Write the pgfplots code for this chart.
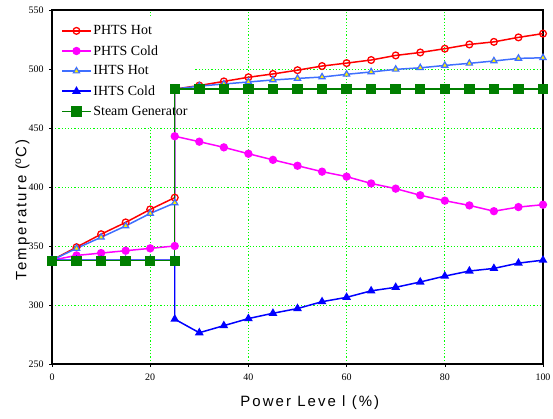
\documentclass[border=0pt]{standalone}
\usepackage{fontspec}
\setmainfont{Liberation Serif}
\newfontfamily\labelfont[LetterSpace=14]{Liberation Sans}
\usepackage{pgfplots}
\pgfplotsset{compat=1.18}
\definecolor{cHot}{HTML}{FF0000}
\definecolor{cCold}{HTML}{FF00FF}
\definecolor{cIH}{HTML}{3F6FFF}
\definecolor{cIC}{HTML}{0000FF}
\definecolor{cSG}{HTML}{007F00}
\definecolor{cGrid}{HTML}{00FF00}
\begin{document}
\begin{tikzpicture}
\begin{axis}[
  set layers=standard,
  scale only axis, width=491bp, height=354bp,
  xmin=0, xmax=100, ymin=250, ymax=550,
  xtick={0,20,...,100}, ytick={250,300,...,550},
  grid=major,
  grid style={cGrid, line width=0.8pt, dash pattern=on 1.2pt off 2pt},
  axis line style={black, line width=1.3pt},
  tick style={black, line width=0.6pt},
  major tick length=3pt, tick align=outside,
  xtick pos=bottom, ytick pos=left,
  /pgf/number format/assume math mode=true,
  tick label style={font=\fontsize{10}{12}\selectfont},
  xticklabel style={yshift=-3bp},
  yticklabel style={xshift=-2bp},
  xlabel={Power Leve l (\%)},
  ylabel={Temperature (\textsuperscript{o}C)},
  label style={font=\labelfont\fontsize{15}{17}\selectfont},
  xlabel style={at={(axis description cs:0.525,-0.11)}, anchor=center},
  ylabel style={at={(axis description cs:-0.06,0.435)}, anchor=center, rotate=0},
  legend style={at={(axis description cs:0.015,0.968)}, anchor=north west,
    draw=none, fill=none, font=\fontsize{14}{15.5}\selectfont,
    row sep=5.2pt, inner sep=2pt},
  legend cell align=left,
  legend image code/.code={
    \draw[mark repeat=2,mark phase=2] plot coordinates {(0cm,0cm) (0.5cm,0cm) (1cm,0cm)};},
  every axis plot/.append style={line width=1.5pt},
  clip=false,
]
\begin{pgfonlayer}{pre main}
\fill[white] (axis cs:0.5,452) rectangle (axis cs:29.2,544.5);
\end{pgfonlayer}
% PHTS hot
\addplot[cHot, mark=o, mark size=3.4pt, mark options={fill=white, line width=1.3pt}] coordinates {
(0,338) (5,349) (10,360) (15,370) (20,381) (25,391) (25,483)
(30,486) (35,489.5) (40,493) (45,495.8) (50,499) (55,502.5) (60,505)
(65,507.6) (70,511.5) (75,514) (80,517.2) (85,520.8) (90,523) (95,526.8) (100,530)};
\addlegendentry{PHTS Hot}
% PHTS cold
\addplot[cCold, mark=*, mark size=3.4pt] coordinates {
(0,338) (5,342) (10,344) (15,346) (20,348) (25,350) (25,443)
(30,438.4) (35,433.6) (40,428.2) (45,423) (50,418) (55,413) (60,408.8)
(65,403) (70,398.6) (75,393) (80,388.4) (85,384.4) (90,379.5) (95,383) (100,385)};
\addlegendentry{PHTS Cold}
% IHTS hot
\addplot[cIH, mark=triangle*, mark size=3.6pt, mark options={fill=yellow, draw=cIH, line width=1.2pt}] coordinates {
(0,338) (5,348) (10,357.4) (15,367) (20,377.6) (25,386.5) (25,483)
(30,485.5) (35,487.3) (40,489) (45,490.7) (50,492) (55,493.2) (60,495.5)
(65,497.5) (70,499.7) (75,501) (80,503) (85,504.8) (90,506.8) (95,509) (100,509.5)};
\addlegendentry{IHTS Hot}
% IHTS cold
\addplot[cIC, mark=triangle*, mark size=3.6pt] coordinates {
(0,338) (5,338) (10,338) (15,338) (20,338) (25,338) (25,288)
(30,276.5) (35,282.5) (40,288.5) (45,293) (50,297) (55,302.8) (60,306.5)
(65,312) (70,315) (75,319.5) (80,324.5) (85,328.8) (90,331) (95,335.5) (100,338)};
\addlegendentry{IHTS Cold}
% steam generator
\addplot[cSG, mark=square*, mark size=4.5pt] coordinates {
(0,337.5) (5,337.5) (10,337.5) (15,337.5) (20,337.5) (25,337.5) (25,483)
(30,483) (35,483) (40,483) (45,483) (50,483) (55,483) (60,483)
(65,483) (70,483) (75,483) (80,483) (85,483) (90,483) (95,483) (100,483)};
\addlegendentry{Steam Generator}
\end{axis}
\pgfresetboundingbox
\path ([shift={(-52bp,-55bp)}]current axis.south west) rectangle ([shift={(10bp,10bp)}]current axis.north east);
\end{tikzpicture}
\end{document}
